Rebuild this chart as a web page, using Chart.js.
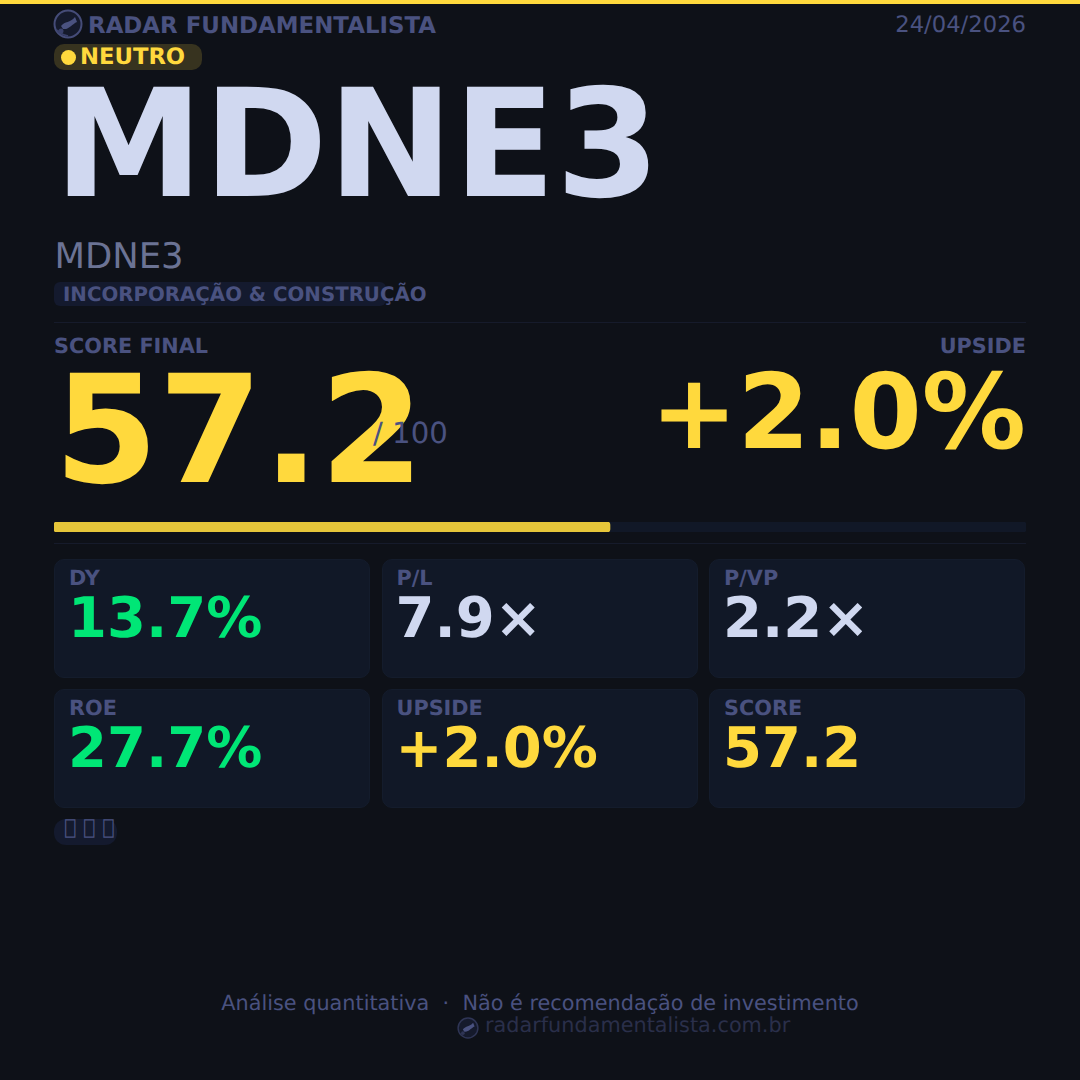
<!DOCTYPE html>
<html>
<head>
<meta charset="utf-8">
<script src="https://cdn.jsdelivr.net/npm/chart.js@4"></script>
<style>
  html, body { margin: 0; padding: 0; background: #0e1118; }
  #page { position: relative; width: 1080px; height: 1080px; overflow: hidden; background: #0e1118; font-family: "DejaVu Sans", sans-serif; text-rendering: geometricPrecision; }
  #page > * { position: absolute; white-space: nowrap; }
  .top-strip { left: 0; top: 0; width: 1080px; height: 4px; background: #ffd93d; }
  .brand { left: 88px; top: 12px; font-size: 22.9px; line-height: 28px; font-weight: 700; color: #4a5280; }
  .date { right: 54px; top: 11px; font-size: 22.7px; line-height: 28px; color: #4a5280; }
  .pill { left: 54px; top: 44px; width: 148px; height: 26px; border-radius: 10px; background: #37331f; }
  .dot { left: 61px; top: 50px; width: 15px; height: 15px; border-radius: 50%; background: #ffd93d; }
  .pill-text { left: 80px; top: 43px; font-size: 22.7px; line-height: 28px; font-weight: 700; color: #ffd93d; }
  .ticker { left: 54px; top: 62px; font-size: 150px; line-height: 166px; font-weight: 700; color: #d0d8f0; }
  .name { left: 54.5px; top: 236px; font-size: 35.4px; line-height: 42px; color: #6b7394; }
  .tag-bg { left: 54px; top: 282px; width: 332px; height: 24px; border-radius: 6px; background: #141a2e; }
  .tag-text { left: 63px; top: 282px; font-size: 19.8px; line-height: 26px; font-weight: 700; color: #4a5280; }
  .rule { left: 54px; width: 972px; height: 1px; background: #161b2b; }
  .label { top: 333px; font-size: 20.8px; line-height: 26px; font-weight: 700; color: #4a5280; }
  .score { left: 54px; top: 348px; font-size: 150px; line-height: 166px; font-weight: 700; color: #ffd93d; }
  .out-of { left: 373px; top: 416px; font-size: 29.2px; line-height: 34px; color: #4a5280; }
  .upside { right: 54px; top: 356px; font-size: 104px; line-height: 112px; font-weight: 700; color: #ffd93d; }
  #barWrap { left: 54px; top: 522px; width: 972px; height: 10px; }
  .card { box-sizing: border-box; width: 316.4px; height: 118.5px; border-radius: 10px; background: #111827; border: 1px solid #141c2c; }
  .card-label { font-size: 20.8px; line-height: 24px; font-weight: 700; color: #4a5280; }
  .card-value { font-size: 56px; line-height: 62px; font-weight: 700; }
  .icons-bg { left: 54px; top: 819px; width: 63px; height: 26px; border-radius: 12px; background: #141a2e; }
  .icons { left: 64px; top: 814px; font-size: 20.8px; line-height: 26px; color: #4a5280; }
  .foot { left: 0; width: 1080px; top: 990px; text-align: center; font-size: 20.8px; line-height: 26px; color: #4a5280; }
  .site { left: 485px; top: 1012px; font-size: 20.8px; line-height: 26px; color: #2a2f4a; }
</style>
</head>
<body>
<div id="page">
  <div class="top-strip"></div>
  <svg style="left:53px;top:9px" width="30" height="30" viewBox="0 0 30 30">
    <circle cx="15" cy="15" r="13.5" fill="#151a2c" stroke="#454c78" stroke-width="2"/>
    <path d="M8 17 C12 12 17 14 22 8 L24 13 C19 15 16 21 10 20 Z" fill="#4a5280"/>
    <path d="M4 21 C8 26 11 26 15 27" fill="none" stroke="#39406a" stroke-width="2"/>
    <circle cx="8" cy="22" r="2.5" fill="#39406a"/>
  </svg>
  <div class="brand">RADAR FUNDAMENTALISTA</div>
  <div class="date">24/04/2026</div>
  <div class="pill"></div>
  <div class="dot"></div>
  <div class="pill-text">NEUTRO</div>
  <div class="ticker">MDNE3</div>
  <div class="name">MDNE3</div>
  <div class="tag-bg"></div>
  <div class="tag-text">INCORPORAÇÃO &amp; CONSTRUÇÃO</div>
  <div class="rule" style="top:322px"></div>
  <div class="label" style="left:54px">SCORE FINAL</div>
  <div class="label" style="right:54px">UPSIDE</div>
  <div class="score">57.2</div>
  <div class="out-of">/ 100</div>
  <div class="upside">+2.0%</div>
  <div id="barWrap"><canvas id="scoreBar" width="972" height="10"></canvas></div>
  <div class="rule" style="top:543px"></div>
  <div class="icons-bg"></div>
  <div class="icons">&#xE100; &#xE100; &#xE100;</div>
  <div class="foot">Análise quantitativa &nbsp;·&nbsp; Não é recomendação de investimento</div>
  <svg style="left:457px;top:1017px" width="22" height="22" viewBox="0 0 30 30">
    <circle cx="15" cy="15" r="13.5" fill="#151a2c" stroke="#2f3555" stroke-width="2"/>
    <path d="M8 17 C12 12 17 14 22 8 L24 13 C19 15 16 21 10 20 Z" fill="#4a5280"/>
    <circle cx="8" cy="22" r="2.5" fill="#2f3555"/>
  </svg>
  <div class="site">radarfundamentalista.com.br</div>
</div>
<script>
const scoreCategories = ['Score'];
const scoreValues = [57.2];
const scoreMax = [100];

const metricLabels = ['DY', 'P/L', 'P/VP', 'ROE', 'UPSIDE', 'SCORE'];
const metricValues = ['13.7%', '7.9×', '2.2×', '27.7%', '+2.0%', '57.2'];
const metricColors = ['#00e676', '#d0d8f0', '#d0d8f0', '#00e676', '#ffd93d', '#ffd93d'];

// cards de metricas, 3 por linha
const page = document.getElementById('page');
metricLabels.forEach((label, i) => {
  const x = 54 + (i % 3) * 327.5;
  const y = 559 + Math.floor(i / 3) * 130;
  const card = document.createElement('div');
  card.className = 'card';
  card.style.left = x + 'px';
  card.style.top = y + 'px';
  page.appendChild(card);
  const l = document.createElement('div');
  l.className = 'card-label';
  l.textContent = label;
  l.style.left = (x + 15) + 'px';
  l.style.top = (y + 7) + 'px';
  page.appendChild(l);
  const v = document.createElement('div');
  v.className = 'card-value';
  v.textContent = metricValues[i];
  v.style.color = metricColors[i];
  v.style.left = (x + 14) + 'px';
  v.style.top = (y + 29) + 'px';
  page.appendChild(v);
});

new Chart(document.getElementById('scoreBar').getContext('2d'), {
  type: 'bar',
  data: {
    labels: scoreCategories,
    datasets: [
      { data: scoreValues, backgroundColor: '#e6c63a', borderRadius: 3, borderSkipped: false, barPercentage: 1, categoryPercentage: 1, order: 1 },
      { data: scoreMax, backgroundColor: '#111827', borderRadius: 3, borderSkipped: false, barPercentage: 1, categoryPercentage: 1, order: 2 }
    ]
  },
  options: {
    indexAxis: 'y',
    responsive: false,
    animation: false,
    devicePixelRatio: 1,
    layout: { padding: 0 },
    plugins: { legend: { display: false }, tooltip: { enabled: false } },
    scales: {
      x: { display: false, min: 0, max: 100 },
      y: { display: false, stacked: true }
    }
  }
});
</script>
</body>
</html>
